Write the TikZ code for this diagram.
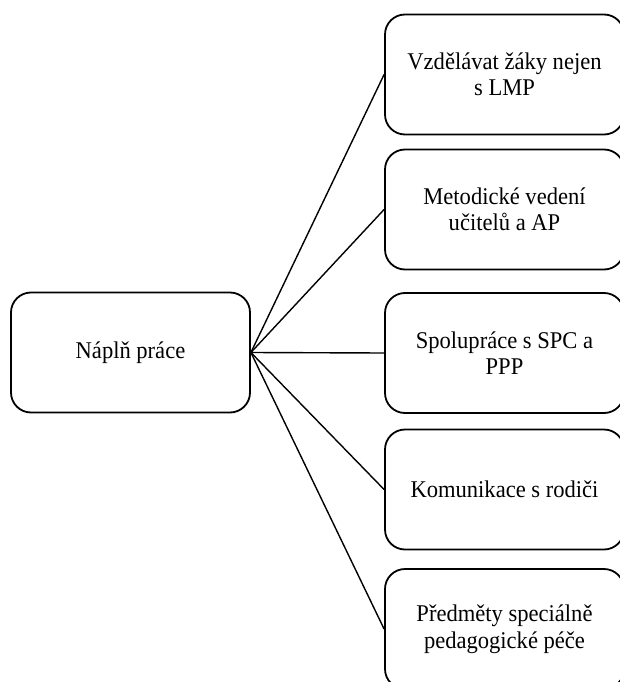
\documentclass[tikz,border=0pt]{standalone}
\usepackage{fontspec}
\setmainfont{Liberation Serif}[FakeStretch=0.94]
\begin{document}
\begin{tikzpicture}[x=1pt,y=-1pt,
  box/.style={draw=black, line width=1.8pt, rounded corners=20pt,
    minimum width=239pt, minimum height=120pt, inner sep=0pt,
    align=center, font=\fontsize{24}{26.5}\selectfont},
  link/.style={draw=black, line width=1.4pt}]
\useasboundingbox (0,0) rectangle (620,682);
\clip (0,0) rectangle (620,682);
\node[box] (c) at (130.5,352.5) {Náplň práce};
\node[box] (r1) at (504.5,74.5) {Vzdělávat žáky nejen\\s LMP};
\node[box] (r2) at (504.5,209.5) {Metodické vedení\\učitelů a AP};
\node[box] (r3) at (504.5,353) {Spolupráce s SPC a\\PPP};
\node[box] (r4) at (504.5,489.5) {Komunikace s rodiči};
\node[box] (r5) at (504.5,629) {Předměty speciálně\\pedagogické péče};
\foreach \r in {r1,r2,r3,r4,r5}
  \draw[link] (c.east) -- (\r.west);
\end{tikzpicture}
\end{document}
